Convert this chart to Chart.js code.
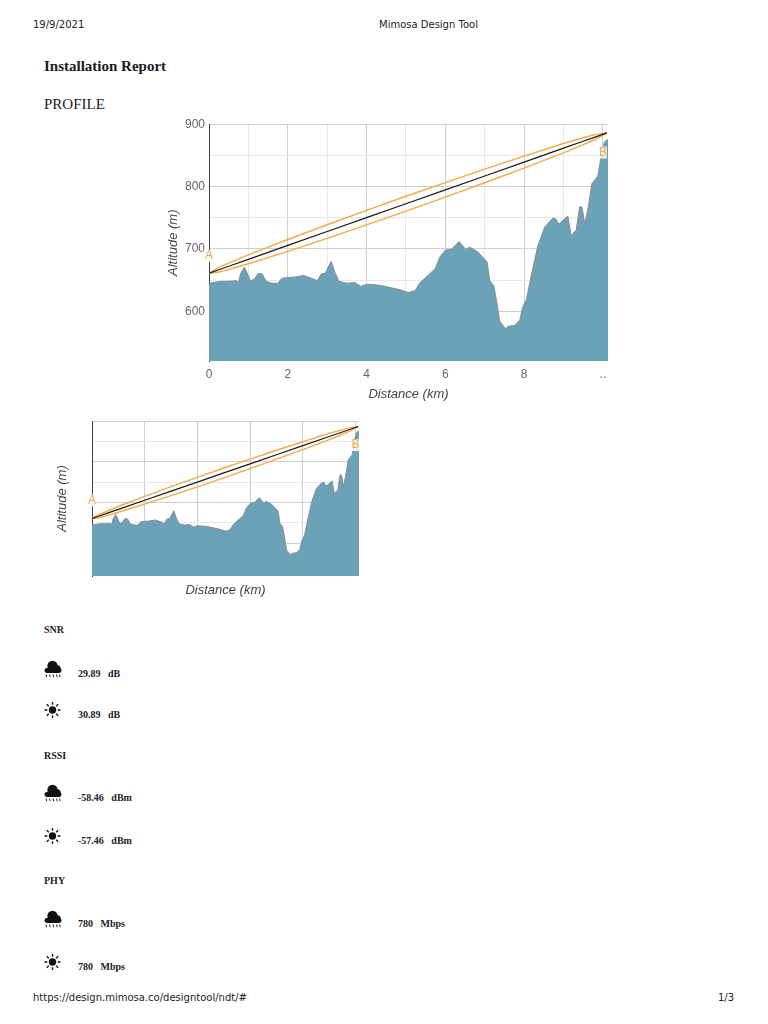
<!DOCTYPE html>
<html><head><meta charset="utf-8">
<style>
html,body{margin:0;padding:0;background:#fff;width:768px;height:1024px;overflow:hidden}
.t{position:absolute;white-space:pre;line-height:1;color:#1a1a1a}
.h{font:10px "DejaVu Sans",sans-serif;color:#222}
.s{font:bold 10px "Liberation Serif",serif;color:#222}
canvas{position:absolute}
svg{position:absolute}
</style>
<script src="https://cdn.jsdelivr.net/npm/chart.js@4"></script>
</head><body>
<div class="t h" style="left:33px;top:19px">19/9/2021</div>
<div class="t h" style="left:379px;top:19px">Mimosa Design Tool</div>
<div class="t" style="left:44px;top:58px;font:bold 15px 'Liberation Serif',serif">Installation Report</div>
<div class="t" style="left:44px;top:96px;font:15px 'Liberation Serif',serif">PROFILE</div>
<canvas id="c1" style="left:160px;top:110px;width:460px;height:300px"></canvas>
<canvas id="c2" style="left:40px;top:410px;width:330px;height:195px"></canvas>
<div id="rows"></div>
<div class="t h" style="left:33px;top:992px">https://design.mimosa.co/designtool/ndt/#</div>
<div class="t h" style="left:718px;top:992px">1/3</div>
<script>
const terrainKm=[0,0.1,0.3,0.5,0.7,0.75,0.8,0.9,1.0,1.05,1.15,1.25,1.35,1.45,1.6,1.75,1.85,2.0,2.2,2.4,2.6,2.75,2.85,2.95,3.1,3.2,3.3,3.5,3.7,3.85,4.0,4.2,4.4,4.6,4.85,5.06,5.23,5.36,5.65,5.74,5.86,6.0,6.16,6.35,6.52,6.62,6.83,7.06,7.13,7.23,7.3,7.38,7.53,7.6,7.76,7.89,7.96,8.06,8.19,8.35,8.52,8.73,8.8,8.88,9.11,9.2,9.26,9.32,9.41,9.47,9.54,9.62,9.72,9.87,9.98,10.04,10.13];
const terrainAlt=[645,646,648,648,649,646,660,671,657,649,651,661,660,648,645,645,653,654,655,657.5,653,649,660,661,680,662,648,645,646,640,643,642.5,641,638,634.5,630,633,646,663,668,687,698,700,712,699,703,695,679,649,641,617,584,572,576,577,585.5,606,619,660,705,735,749.5,749,740,753,720,727,729.5,768,767,740,764,805,817,858,872,876];
const linkKm=[0,0.25,0.5,1,2,3,4,5,6,7,8,9,9.5,9.8,10.1];
const losAlt=[661,666.6,672.2,683.3,705.7,728,750.3,772.7,795,817.3,839.6,862,873.1,879.8,886.5];
const fresnelUpper=[661,670.3,677.4,690.4,715.2,738.9,762,784.7,806.7,828.2,849.2,869.5,878.7,883.7,886.5];
const fresnelLower=[661,662.9,667,676.2,696.2,717.1,738.6,760.7,783.3,806.4,830,854.5,867.5,875.9,886.5];
const xTickLabels={0:'0',2:'2',4:'4',6:'6',8:'8',10:'..'};
const yTickLabels={600:'600',700:'700',800:'800',900:'900'};
const readouts=[['SNR',null,null,624],['29.89','dB','rain',668],['30.89','dB','sun',709],['RSSI',null,null,750],['-58.46','dBm','rain',792],['-57.46','dBm','sun',835],['PHY',null,null,875],['780','Mbps','rain',918],['780','Mbps','sun',961]];

const pts=(xs,ys)=>xs.map((x,i)=>({x,y:ys[i]}));
const ORANGE='#f4aa4a', FILL='#6ca2b8';
const rainIcon='<circle cx="8.500" cy="6" r="5.200" fill="#111"/><circle cx="13.300" cy="8.500" r="3.300" fill="#111"/><rect x="0.500" y="8" width="17" height="5" rx="2.400" fill="#111"/><path d="M2 14.500l.7 2.700M5.500 14.500l.7 2.700M9 14.500l.7 2.700M12.500 14.500l.7 2.700M15.500 14.500l.7 2.700" stroke="#222" stroke-width="1" fill="none"/>';
const sunIcon='<circle cx="8.500" cy="9" r="3.700" fill="#111"/><path d="M8.500 1v2.800M8.500 14.200v2.800M0.500 9h2.800M13.700 9h2.800M2.800 3.300l2 2M12.200 12.700l2 2M2.800 14.700l2-2M12.200 5.300l2-2" stroke="#111" stroke-width="1.300" fill="none"/>';
const rows=document.getElementById('rows');
readouts.forEach(([a,b,ic,top])=>{
  if(!b){rows.insertAdjacentHTML('beforeend',`<div class="t s" style="left:44px;top:${top}px">${a}</div>`);return;}
  rows.insertAdjacentHTML('beforeend',`<svg style="left:44px;top:${top-8}px" width="18" height="18" viewBox="0 0 18 18">${ic==='rain'?rainIcon:sunIcon}</svg><div class="t s" style="left:78px;top:${top}px">${a}   ${b}</div>`);
});

function build(id,o){
  const cv=document.getElementById(id);
  const labelPlugin={id:'abLabels',afterDatasetsDraw(ch){
    const c=ch.ctx,xs=ch.scales.x,ys=ch.scales.y;
    c.save();c.font='12px "Liberation Sans",sans-serif';c.textAlign='center';c.textBaseline='middle';
    o.marks.forEach(m=>{
      const px=xs.getPixelForValue(m.x),py=ys.getPixelForValue(m.y);
      c.fillStyle='rgba(255,255,255,.85)';c.fillRect(px-4,py-6,8,12);
      c.fillStyle=ORANGE;c.fillText(m.t,px,py);
    });
    c.restore();
  }};
  new Chart(cv,{type:'line',
    data:{datasets:[
      {data:pts(linkKm,fresnelUpper),borderColor:ORANGE,borderWidth:1.4,pointRadius:0,fill:false,order:1},
      {data:pts(linkKm,fresnelLower),borderColor:ORANGE,borderWidth:1.4,pointRadius:0,fill:false,order:1},
      {data:pts(linkKm,losAlt),borderColor:'#1a1a1a',borderWidth:1.2,pointRadius:0,fill:false,order:0},
      {data:pts(terrainKm,terrainAlt),borderColor:'#858d92',borderWidth:1,backgroundColor:FILL,pointRadius:0,fill:'start',order:2}
    ]},
    plugins:[labelPlugin],
    options:{responsive:false,animation:false,events:[],
      layout:{padding:{top:o.top,right:o.right,left:0,bottom:0}},
      plugins:{legend:{display:false},tooltip:{enabled:false}},
      scales:{
        x:{type:'linear',min:0,max:10.13,
          afterFit(s){s.height=o.bottom;},
          border:{display:false},
          grid:{drawTicks:false,color:c=>c.tick&&c.tick.value%2===0?'#cfcfcf':o.xMinor,lineWidth:1},
          ticks:{stepSize:1,includeBounds:false,autoSkip:false,maxRotation:0,padding:6,color:'#666',
            font:{family:'"Liberation Sans",sans-serif',size:12},
            display:o.labels,
            callback:v=>xTickLabels[v]||''},
          title:{display:true,text:'Distance (km)',color:'#444',padding:{top:0,bottom:o.xTitlePad},
            font:{family:'"Liberation Sans",sans-serif',size:13,style:'italic'}}},
        y:{min:520,max:900,
          afterFit(s){s.width=o.left;},
          border:{display:true,color:'#444',width:1},
          grid:{drawTicks:false,color:c=>c.tick&&c.tick.value%100===0?'#cfcfcf':'#e8e8e8',lineWidth:1},
          ticks:{stepSize:50,includeBounds:false,autoSkip:false,padding:4,color:'#666',
            font:{family:'"Liberation Sans",sans-serif',size:12},
            display:o.labels,
            callback:v=>yTickLabels[v]||''},
          title:{display:true,text:'Altitude (m)',color:'#444',padding:{top:o.yTitlePad,bottom:0},
            font:{family:'"Liberation Sans",sans-serif',size:13,style:'italic'}}}
      }}});
}
document.getElementById('c1').width=460;document.getElementById('c1').height=300;
document.getElementById('c2').width=330;document.getElementById('c2').height=195;
build('c1',{top:14.5,right:12,left:49,bottom:49,labels:true,xTitlePad:8,yTitlePad:6,xMinor:'#e8e8e8',marks:[{x:0,y:689,t:'A'},{x:10,y:855,t:'B'}]});
build('c2',{top:11,right:11,left:52,bottom:29,labels:false,xTitlePad:7,yTitlePad:15,xMinor:'rgba(0,0,0,0)',marks:[{x:0,y:705,t:'A'},{x:10,y:841,t:'B'}]});
</script>
</body></html>
